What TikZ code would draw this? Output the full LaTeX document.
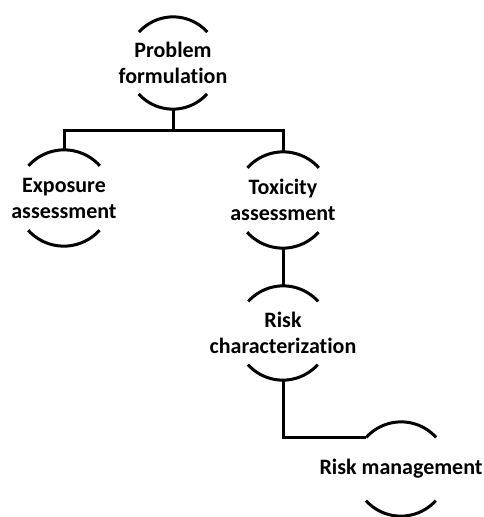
\documentclass[tikz,border=0pt]{standalone}
\usepackage{fontspec}
\setmainfont{Carlito}[Ligatures=NoCommon]
\newcommand\ringarcs[2]{%
  \draw[ringline] (#1.42) arc[start angle=42, end angle=138, radius=#2pt];
  \draw[ringline] (#1.222) arc[start angle=222, end angle=318, radius=#2pt];}
\begin{document}
\begin{tikzpicture}[x=1pt,y=1pt,
  ring/.style={circle, draw=none, inner sep=0pt, minimum size=#1*2pt},
  ringline/.style={line width=3pt, black},
  conn/.style={line width=3pt, black},
  lab/.style={align=center, inner sep=0pt, font=\fontsize{22}{26}\selectfont\bfseries}]
\useasboundingbox (0,0) rectangle (483,-517);
\node[ring=46] (pf) at (173,-63) {};
\node[ring=48] (ea) at (64,-198) {};
\node[ring=48] (ta) at (283,-200) {};
\node[ring=47] (rc) at (283,-333) {};
\node[ring=47] (rm) at (401,-469) {};
\ringarcs{pf}{46}
\ringarcs{ea}{48}
\ringarcs{ta}{48}
\ringarcs{rc}{47}
\ringarcs{rm}{47}
\node[lab] (pft) at (pf) {Problem\\formulation};
\node[lab] (eat) at (ea) {Exposure\\assessment};
\node[lab] (tat) at (ta) {Toxicity\\assessment};
\node[lab] (rct) at (rc) {Risk\\characterization};
\node[lab] (rmt) at (rm) {Risk management};
\coordinate (bus) at (0,-130);
\draw[conn] (pf.south) -- (pf.south |- bus);
\draw[conn] (ea.north) -- (ea.north |- bus) -- (ta.north |- bus) -- (ta.north);
\draw[conn] (ta.south) -- (rc.north);
\draw[conn] (rc.south) |- (rm.138);
\end{tikzpicture}
\end{document}
